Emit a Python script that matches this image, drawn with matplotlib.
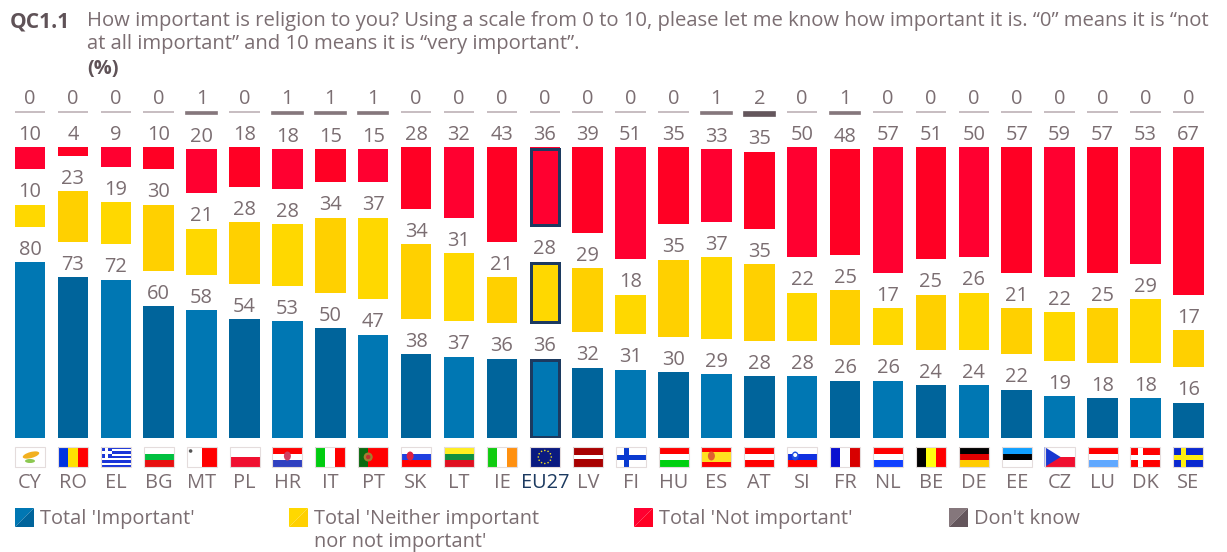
import matplotlib
matplotlib.use('Agg')
from matplotlib import pyplot as plt
from matplotlib.patches import Rectangle, Polygon, Circle, Ellipse
import numpy as np

plt.rcParams['font.family'] = ['Open Sans', 'DejaVu Sans']

countries = ['CY', 'RO', 'EL', 'BG', 'MT', 'PL', 'HR', 'IT', 'PT', 'SK', 'LT', 'IE', 'EU27', 'LV',
             'FI', 'HU', 'ES', 'AT', 'SI', 'FR', 'NL', 'BE', 'DE', 'EE', 'CZ', 'LU', 'DK', 'SE']
important = [80, 73, 72, 60, 58, 54, 53, 50, 47, 38, 37, 36, 36, 32, 31, 30, 29, 28, 28, 26, 26, 24, 24, 22, 19, 18, 18, 16]
neither = [10, 23, 19, 30, 21, 28, 28, 34, 37, 34, 31, 21, 28, 29, 18, 35, 37, 35, 22, 25, 17, 25, 26, 21, 22, 25, 29, 17]
not_important = [10, 4, 9, 10, 20, 18, 18, 15, 15, 28, 32, 43, 36, 39, 51, 35, 33, 35, 50, 48, 57, 51, 50, 57, 59, 57, 53, 67]
dont_know = [0, 0, 0, 0, 1, 0, 1, 1, 1, 0, 0, 0, 0, 0, 0, 0, 1, 2, 0, 1, 0, 0, 0, 0, 0, 0, 0, 0]

legend_labels = ["Total 'Important'", "Total 'Neither important\nnor not important'", "Total 'Not important'", "Don't know"]

W, H = 1227, 552
TEXT = '#7b6e72'
NAVY = '#1c3a60'
BODY = 14.4
# each series alternates between two close shades
BLUES = ['#0077b3', '#00649b']
YELLOWS = ['#ffd800', '#ffd000']
REDS = ['#ff0030', '#ff0024']
GREYS = {0: '#bdb2b6', 1: '#85777c', 2: '#64565c'}

fig = plt.figure(figsize=(W / 100, H / 100), dpi=100)

# bar area: 42.9px per country, 2.2px per percentage point, baseline at y=438
pitch = 42.9
unit = 2.2
left = 30 - pitch / 2
top_px = 90
ax = fig.add_axes([left / W, (H - 438) / H, pitch * 28 / W, (438 - top_px) / H])
ax.set_xlim(-0.5, 27.5)
ax.set_ylim(0, (438 - top_px) / unit)
ax.axis('off')

gap = 35.4 / unit
width = 30.5 / pitch
x = np.arange(len(countries))
imp = np.array(important)
nei = np.array(neither)
nop = np.array(not_important)
dk = np.array(dont_know)

shade = lambda cols: [cols[i % 2] for i in x]
b_nei = imp + gap
b_nop = b_nei + nei + gap
b_dk = b_nop + nop + gap

ax.bar(x, imp, width, color=shade(BLUES))
ax.bar(x, nei, width, bottom=b_nei, color=shade(YELLOWS))
ax.bar(x, nop, width, bottom=b_nop, color=shade(REDS))
ax.bar(x, dk, width, bottom=b_dk, color=[GREYS[v] for v in dont_know],
       edgecolor=[GREYS[v] for v in dont_know], linewidth=1.2)

# EU27 gets a navy frame around each of its segments
eu = countries.index('EU27')
lw_px = 3
for bottom, height in [(0, imp[eu]), (b_nei[eu], nei[eu]), (b_nop[eu], nop[eu])]:
    ax.add_patch(Rectangle((eu - width / 2 + lw_px / 2 / pitch, bottom + lw_px / 2 / unit),
                           width - lw_px / pitch, height - lw_px / unit,
                           fill=False, edgecolor=NAVY, linewidth=lw_px * 0.72))

# value labels sit a fixed distance above each segment
for vals, bottoms in [(imp, 0 * imp), (nei, b_nei), (nop, b_nop), (dk, b_dk)]:
    for i in x:
        ax.annotate(str(vals[i]), (i, bottoms[i] + vals[i]), xytext=(0, 12.5 / 1.389),
                    textcoords='offset points', ha='center', va='center', fontsize=BODY, color=TEXT)

# overlay in pixel coordinates for heading, flags, codes and legend
ov = fig.add_axes([0, 0, 1, 1])
ov.set_xlim(0, W)
ov.set_ylim(H, 0)
ov.axis('off')
ov.patch.set_alpha(0)

ov.text(10, 22, 'QC1.1', fontsize=15, fontweight='bold', color='#5f5257', va='center')
ov.text(87, 21, 'How important is religion to you? Using a scale from 0 to 10, please let me know how important it is. “0” means it is “not',
        fontsize=14.6, color=TEXT, va='center')
ov.text(87, 44, 'at all important” and 10 means it is “very important”.', fontsize=14.6, color=TEXT, va='center')
ov.text(87, 69, '(%)', fontsize=BODY, fontweight='bold', color='#5f5257', va='center')

FW, FH = 30, 20


def hstripes(cx, cols):
    n = len(cols)
    for k, c in enumerate(cols):
        ov.add_patch(Rectangle((cx - FW / 2, 447 + k * FH / n), FW, FH / n, color=c, lw=0))


def vstripes(cx, cols):
    n = len(cols)
    for k, c in enumerate(cols):
        ov.add_patch(Rectangle((cx - FW / 2 + k * FW / n, 447), FW / n, FH, color=c, lw=0))


def nordic(cx, bg, cross):
    hstripes(cx, [bg])
    ov.add_patch(Rectangle((cx - FW / 2 + 8, 447), 5, FH, color=cross, lw=0))
    ov.add_patch(Rectangle((cx - FW / 2, 455), FW, 5, color=cross, lw=0))


def shield(cx, dx, c):
    ov.add_patch(Ellipse((cx + dx, 456), 7, 9, color=c, lw=0))


W_ = '#ffffff'
R_ = '#ff0000'
for name, cx in zip(countries, 30 + pitch * x):
    if name == 'CY':
        hstripes(cx, [W_])
        ov.add_patch(Ellipse((cx + 1, 455), 17, 6, angle=-15, color='#f2b020', lw=0))
        ov.add_patch(Ellipse((cx, 461), 10, 4, color='#8cc850', lw=0))
    elif name == 'RO':
        vstripes(cx, ['#0033e0', '#ffe000', '#ff0000'])
    elif name == 'EL':
        hstripes(cx, ['#1a35d8', W_, '#1a35d8', W_, '#1a35d8', W_, '#1a35d8', W_, '#1a35d8'])
        ov.add_patch(Rectangle((cx - 15, 447), 11, 11, color='#1a35d8', lw=0))
        ov.add_patch(Rectangle((cx - 11, 447), 3, 11, color=W_, lw=0))
        ov.add_patch(Rectangle((cx - 15, 451), 11, 3, color=W_, lw=0))
    elif name == 'BG':
        hstripes(cx, [W_, '#00c040', '#e81010'])
    elif name == 'MT':
        vstripes(cx, [W_, R_])
        ov.add_patch(Circle((cx - 11, 451), 1.8, color='#555555', lw=0))
    elif name == 'PL':
        hstripes(cx, [W_, '#f01030'])
    elif name == 'HR':
        hstripes(cx, [R_, W_, '#3040c0'])
        shield(cx, 0, '#d04060')
    elif name == 'IT':
        vstripes(cx, ['#00cc10', W_, R_])
    elif name == 'PT':
        vstripes(cx, ['#0a6a10', R_, R_])
        ov.add_patch(Circle((cx - 5, 457), 4.5, color='#a08030', lw=0))
        ov.add_patch(Circle((cx - 5, 457), 2.2, color='#c03030', lw=0))
    elif name == 'SK':
        hstripes(cx, [W_, '#2040e0', R_])
        shield(cx, -6, '#e02040')
    elif name == 'LT':
        hstripes(cx, ['#ffee20', '#109040', '#e01020'])
    elif name == 'IE':
        vstripes(cx, ['#10cc10', W_, '#ff9010'])
    elif name == 'EU27':
        hstripes(cx, ['#0a1a80'])
        for a in np.arange(0, 2 * np.pi, np.pi / 6):
            ov.add_patch(Circle((cx + 6.5 * np.cos(a), 457 + 6.5 * np.sin(a)), 0.8, color='#e8d820', lw=0))
    elif name == 'LV':
        hstripes(cx, ['#a80000', '#a80000', W_, '#a80000', '#a80000'])
    elif name == 'FI':
        nordic(cx, W_, '#0a3ad0')
    elif name == 'HU':
        hstripes(cx, [R_, W_, '#00d010'])
    elif name == 'ES':
        hstripes(cx, [R_, '#ffe020', '#ffe020', R_])
        shield(cx, -5, '#e06030')
    elif name == 'AT':
        hstripes(cx, [R_, W_, R_])
    elif name == 'SI':
        hstripes(cx, [W_, '#1030e0', R_])
        shield(cx, -7, '#2050e0')
        ov.add_patch(Circle((cx - 7, 455), 2, color=W_, lw=0))
    elif name == 'FR':
        vstripes(cx, ['#0a10d0', W_, '#d80000'])
    elif name == 'NL':
        hstripes(cx, [R_, W_, '#1040ff'])
    elif name == 'BE':
        vstripes(cx, ['#000000', '#ffff10', R_])
    elif name == 'DE':
        hstripes(cx, ['#000000', '#e00000', '#ffcc00'])
    elif name == 'EE':
        hstripes(cx, ['#10a0ff', '#000000', W_])
    elif name == 'CZ':
        hstripes(cx, [W_, '#f01030'])
        ov.add_patch(Polygon([(cx - 15, 447), (cx + 1, 457), (cx - 15, 467)], color='#1838d0', lw=0))
    elif name == 'LU':
        hstripes(cx, [R_, W_, '#60a8ff'])
    elif name == 'DK':
        nordic(cx, R_, W_)
    elif name == 'SE':
        nordic(cx, '#0a28d0', '#ffee10')
    ov.add_patch(Rectangle((cx - FW / 2, 447), FW, FH, fill=False, edgecolor='#e4dcdc', linewidth=0.8))
    ov.text(cx, 483, name, fontsize=BODY, ha='center', va='center', color=NAVY if name == 'EU27' else TEXT)

# legend swatches are split along the diagonal into the two shades
swatches = [(15, BLUES), (289, YELLOWS), (634, REDS), (949, [GREYS[1], GREYS[2]])]
for (sx, cols), label in zip(swatches, legend_labels):
    ov.add_patch(Polygon([(sx, 508), (sx + 19, 508), (sx, 527)], color=cols[0], lw=0))
    ov.add_patch(Polygon([(sx + 19, 508), (sx + 19, 527), (sx, 527)], color=cols[1], lw=0))
    ov.text(sx + 25, 509, label, fontsize=BODY, color=TEXT, va='top', linespacing=1.22)

fig.savefig('out.png', dpi=100)
